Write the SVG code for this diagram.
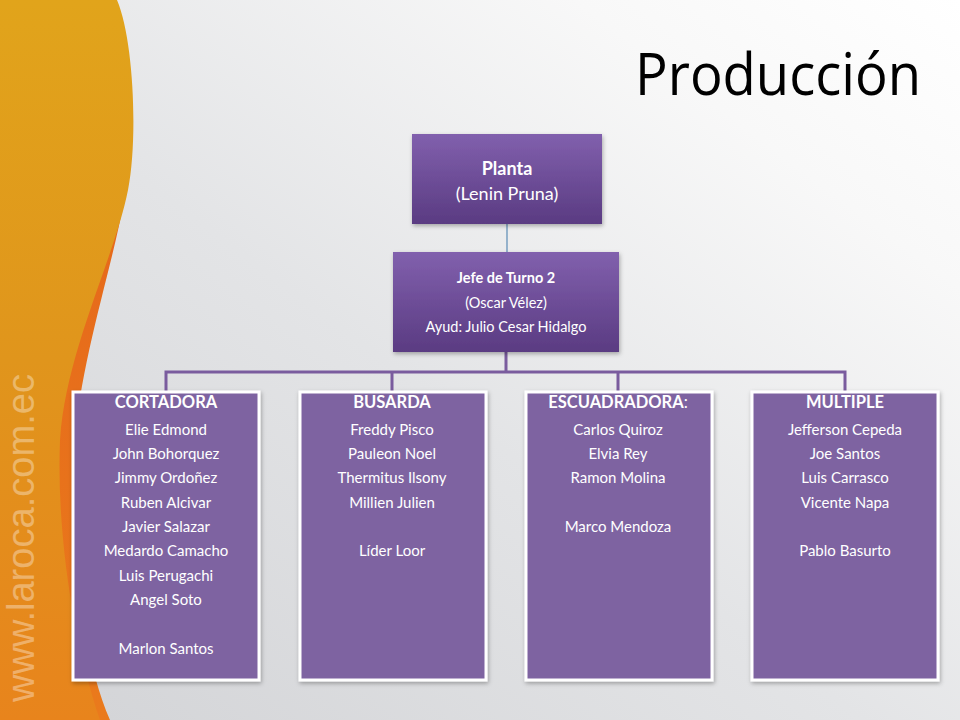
<svg xmlns="http://www.w3.org/2000/svg" width="960" height="720" viewBox="0 0 960 720">
  <defs>
    <linearGradient id="bg" x1="0" y1="1" x2="1" y2="0">
      <stop offset="0" stop-color="#d2d3d6"/>
      <stop offset="0.45" stop-color="#e3e4e6"/>
      <stop offset="0.8" stop-color="#f8f8f8"/>
      <stop offset="1" stop-color="#ffffff"/>
    </linearGradient>
    <linearGradient id="gold" x1="0" y1="0" x2="0" y2="1">
      <stop offset="0" stop-color="#e1a41b"/>
      <stop offset="0.5" stop-color="#e0951c"/>
      <stop offset="1" stop-color="#e8841c"/>
    </linearGradient>
    <linearGradient id="red" x1="0" y1="0" x2="0" y2="1">
      <stop offset="0" stop-color="#e4621a"/>
      <stop offset="1" stop-color="#ea7a1c"/>
    </linearGradient>
    <linearGradient id="head" x1="0" y1="0" x2="0" y2="1">
      <stop offset="0" stop-color="#8160ad"/>
      <stop offset="1" stop-color="#5a3b82"/>
    </linearGradient>
    <filter id="sh" x="-10%" y="-10%" width="130%" height="130%">
      <feDropShadow dx="1" dy="2" stdDeviation="2" flood-color="#000" flood-opacity="0.3"/>
    </filter>
    <style>
      .hd { fill: url(#head); filter: url(#sh); }
      .col { fill: #7e63a1; stroke: #ffffff; stroke-width: 3; filter: url(#sh); }
      .t { font-family: Lato, "Open Sans", "Liberation Sans", sans-serif; fill: #ffffff; text-anchor: middle; }
      .b { font-weight: bold; }
      .nm { font-size: 15px; }
      .ch { font-size: 16.5px; font-weight: bold; }
      .conn { stroke: #7a5c9e; stroke-width: 3; fill: none; }
    </style>
  </defs>

  <!-- background -->
  <rect x="0" y="0" width="960" height="720" fill="url(#bg)"/>
  <path d="M0,0 L112,0 C128,50 134,140 124,200 C112,270 80,360 74,450 C70,560 84,660 110,720 L0,720 Z" fill="url(#red)"/>
  <path d="M0,0 L117,0 C134,40 138,140 128,190 C114,260 66,350 60,440 C56,540 76,650 100,720 L0,720 Z" fill="url(#gold)"/>
  <text x="0" y="0" transform="translate(34,702) rotate(-90)" font-family="'Liberation Sans', Arial, sans-serif" font-size="38" fill="#ffffff" fill-opacity="0.35" textLength="328" lengthAdjust="spacingAndGlyphs">www.laroca.com.ec</text>

  <!-- title -->
  <text x="921" y="95" text-anchor="end" font-family="'Open Sans', Lato, sans-serif" font-size="58" fill="#000000" textLength="286" lengthAdjust="spacingAndGlyphs">Producción</text>

  <!-- connectors -->
  <g id="connectors">
    <line x1="507" y1="224" x2="507" y2="252" stroke="#5b8bb5" stroke-width="1.2"/>
    <path class="conn" d="M506,352 V372 M166,392 V372 H845 V392 M392,372 V392 M618,372 V392"/>
  </g>

  <g id="planta">
    <rect class="hd" x="412" y="134" width="190" height="90"/>
    <text class="t b" x="507" y="175" font-size="18">Planta</text>
    <text class="t" x="507" y="200" font-size="18">(Lenin Pruna)</text>
  </g>

  <g id="jefe">
    <rect class="hd" x="393" y="252" width="226" height="100"/>
    <text class="t b" x="506" y="283" font-size="14.5">Jefe de Turno 2</text>
    <text class="t" x="506" y="308" font-size="14.5">(Oscar Vélez)</text>
    <text class="t" x="506" y="332" font-size="14.5">Ayud: Julio Cesar Hidalgo</text>
  </g>

  <g id="cortadora">
    <rect class="col" x="73" y="392" width="186" height="288"/>
    <text class="t ch" x="166" y="408">CORTADORA</text>
    <text class="t nm" x="166" y="435">Elie Edmond</text>
    <text class="t nm" x="166" y="459">John Bohorquez</text>
    <text class="t nm" x="166" y="483">Jimmy Ordoñez</text>
    <text class="t nm" x="166" y="508">Ruben Alcivar</text>
    <text class="t nm" x="166" y="532">Javier Salazar</text>
    <text class="t nm" x="166" y="556">Medardo Camacho</text>
    <text class="t nm" x="166" y="581">Luis Perugachi</text>
    <text class="t nm" x="166" y="605">Angel Soto</text>
    <text class="t nm" x="166" y="654">Marlon Santos</text>
  </g>

  <g id="busarda">
    <rect class="col" x="300" y="392" width="186" height="288"/>
    <text class="t ch" x="392" y="408">BUSARDA</text>
    <text class="t nm" x="392" y="435">Freddy Pisco</text>
    <text class="t nm" x="392" y="459">Pauleon Noel</text>
    <text class="t nm" x="392" y="483">Thermitus Ilsony</text>
    <text class="t nm" x="392" y="508">Millien Julien</text>
    <text class="t nm" x="392" y="556">Líder Loor</text>
  </g>

  <g id="escuadradora">
    <rect class="col" x="526" y="392" width="186" height="288"/>
    <text class="t ch" x="618" y="408">ESCUADRADORA<tspan font-weight="normal">:</tspan></text>
    <text class="t nm" x="618" y="435">Carlos Quiroz</text>
    <text class="t nm" x="618" y="459">Elvia Rey</text>
    <text class="t nm" x="618" y="483">Ramon Molina</text>
    <text class="t nm" x="618" y="532">Marco Mendoza</text>
  </g>

  <g id="multiple">
    <rect class="col" x="752" y="392" width="186" height="288"/>
    <text class="t ch" x="845" y="408">MULTIPLE</text>
    <text class="t nm" x="845" y="435">Jefferson Cepeda</text>
    <text class="t nm" x="845" y="459">Joe Santos</text>
    <text class="t nm" x="845" y="483">Luis Carrasco</text>
    <text class="t nm" x="845" y="508">Vicente Napa</text>
    <text class="t nm" x="845" y="556">Pablo Basurto</text>
  </g>
</svg>
